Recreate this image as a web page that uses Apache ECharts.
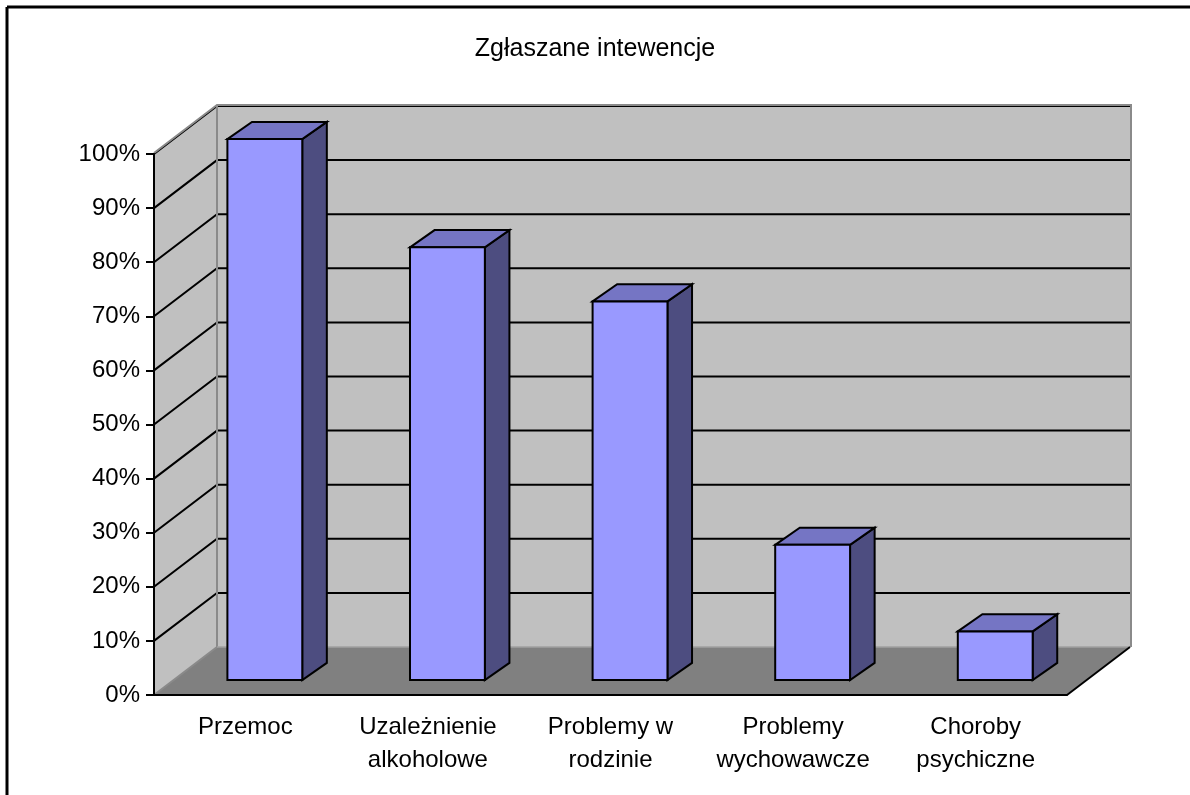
<!DOCTYPE html>
<html>
<head>
<meta charset="utf-8">
<script src="https://cdn.jsdelivr.net/npm/echarts@6/dist/echarts.min.js"></script>
<style>
  html, body { margin: 0; padding: 0; background: #fff; }
  #chart { width: 1190px; height: 795px; }
</style>
</head>
<body>
<div id="chart"></div>
<script>
// data
const categories = ['Przemoc', 'Uzależnienie\nalkoholowe', 'Problemy w\nrodzinie', 'Problemy\nwychowawcze', 'Choroby\npsychiczne'];
const values = [1.00, 0.80, 0.70, 0.25, 0.09];
const gridTicks = [0.1, 0.2, 0.3, 0.4, 0.5, 0.6, 0.7, 0.8, 0.9, 1.0];

// fake 3d look
const DEPTH_X = 63;
const DEPTH_Y = -48;
const BAR_FRONT = 0.31;
const BAR_BACK = 0.70;
const BAR_WIDTH = 0.41;
const FONT = '"Liberation Sans", Arial, sans-serif';

const renderWalls = (params, api) => {
  const cs = params.coordSys;
  const x0 = cs.x;
  const x1 = cs.x + cs.width;
  const yBase = api.coord([0, 0])[1];
  const yTop = api.coord([0, 1])[1];
  const children = [];

  // side wall
  children.push({
    type: 'polygon',
    shape: { points: [[x0, yTop], [x0 + DEPTH_X, yTop + DEPTH_Y], [x0 + DEPTH_X, yBase + DEPTH_Y], [x0, yBase]] },
    style: { fill: '#c0c0c0' }
  });
  // back wall
  children.push({
    type: 'rect',
    shape: { x: x0 + DEPTH_X, y: yTop + DEPTH_Y, width: cs.width, height: yBase - yTop },
    style: { fill: '#c0c0c0' }
  });
  // floor
  children.push({
    type: 'polygon',
    shape: { points: [[x0, yBase], [x0 + DEPTH_X, yBase + DEPTH_Y], [x1 + DEPTH_X, yBase + DEPTH_Y], [x1, yBase]] },
    style: { fill: '#808080' }
  });

  // grid lines on side + back wall
  gridTicks.forEach((v) => {
    const y = api.coord([0, v])[1];
    children.push({
      type: 'polyline',
      shape: { points: [[x0, y], [x0 + DEPTH_X, y + DEPTH_Y], [x1 + DEPTH_X, y + DEPTH_Y]] },
      style: { stroke: '#000', lineWidth: 2, fill: null }
    });
  });

  // wall edges
  children.push({
    type: 'polyline',
    shape: { points: [[x0, yTop - 1], [x0 + DEPTH_X, yTop + DEPTH_Y - 1], [x1 + DEPTH_X + 1, yTop + DEPTH_Y - 1], [x1 + DEPTH_X + 1, yBase + DEPTH_Y]] },
    style: { stroke: '#8a8a8a', lineWidth: 2, fill: null }
  });
  children.push({
    type: 'polyline',
    shape: { points: [[x0 + DEPTH_X, yTop + DEPTH_Y], [x0 + DEPTH_X, yBase + DEPTH_Y], [x0, yBase]] },
    style: { stroke: '#8a8a8a', lineWidth: 2, fill: null }
  });
  children.push({
    type: 'line',
    shape: { x1: x0 + DEPTH_X, y1: yBase + DEPTH_Y, x2: x1 + DEPTH_X, y2: yBase + DEPTH_Y },
    style: { stroke: '#a0a0a0', lineWidth: 1.5 }
  });
  children.push({
    type: 'line',
    shape: { x1: x1, y1: yBase, x2: x1 + DEPTH_X, y2: yBase + DEPTH_Y },
    style: { stroke: '#000', lineWidth: 2 }
  });

  return { type: 'group', children };
};

const renderBar = (params, api) => {
  const top = api.coord([api.value(0), api.value(1)]);
  const base = api.coord([api.value(0), 0]);
  const band = api.size([1, 0])[0];
  const w = band * BAR_WIDTH;
  const fx = top[0] + BAR_FRONT * DEPTH_X - w / 2;
  const fyTop = top[1] + BAR_FRONT * DEPTH_Y;
  const fyBot = base[1] + BAR_FRONT * DEPTH_Y;
  const dx = (BAR_BACK - BAR_FRONT) * DEPTH_X;
  const dy = (BAR_BACK - BAR_FRONT) * DEPTH_Y * 0.92;
  const edge = { stroke: '#000', lineWidth: 2, lineJoin: 'miter' };

  return {
    type: 'group',
    children: [
      {
        type: 'polygon',
        shape: { points: [[fx + w, fyTop], [fx + w + dx, fyTop + dy], [fx + w + dx, fyBot + dy], [fx + w, fyBot]] },
        style: Object.assign({ fill: '#4d4d80' }, edge)
      },
      {
        type: 'polygon',
        shape: { points: [[fx, fyTop], [fx + dx, fyTop + dy], [fx + w + dx, fyTop + dy], [fx + w, fyTop]] },
        style: Object.assign({ fill: '#7575c4' }, edge)
      },
      {
        type: 'rect',
        shape: { x: fx, y: fyTop, width: w, height: fyBot - fyTop },
        style: Object.assign({ fill: '#9999ff' }, edge)
      }
    ]
  };
};

const chart = echarts.init(document.getElementById('chart'));

chart.setOption({
  animation: false,
  backgroundColor: '#fff',
  title: {
    text: 'Zgłaszane intewencje',
    left: 'center',
    top: 32,
    textStyle: { fontFamily: FONT, fontSize: 25, fontWeight: 'normal', color: '#000' }
  },
  grid: {
    left: 154,
    right: 123,
    top: 154,
    bottom: 100
  },
  xAxis: {
    type: 'category',
    data: categories,
    z: 5,
    axisLine: { lineStyle: { color: '#000', width: 2 } },
    axisTick: { length: 7, lineStyle: { color: '#000', width: 2 } },
    axisLabel: {
      interval: 0,
      margin: 16,
      fontFamily: FONT,
      fontSize: 24,
      lineHeight: 33,
      color: '#000'
    },
    splitLine: { show: false }
  },
  yAxis: {
    type: 'value',
    min: 0,
    max: 1,
    interval: 0.1,
    z: 5,
    axisLine: { show: true, lineStyle: { color: '#000', width: 2 } },
    axisTick: { show: true, length: 8, lineStyle: { color: '#000', width: 2 } },
    axisLabel: {
      margin: 14,
      fontFamily: FONT,
      fontSize: 24,
      color: '#000',
      formatter: (v) => Math.round(v * 100) + '%'
    },
    splitLine: { show: false }
  },
  graphic: [
    { type: 'line', shape: { x1: 7, y1: 7, x2: 1190, y2: 7 }, style: { stroke: '#000', lineWidth: 3 } },
    { type: 'line', shape: { x1: 7, y1: 7, x2: 7, y2: 795 }, style: { stroke: '#000', lineWidth: 3 } }
  ],
  series: [
    {
      type: 'custom',
      name: 'walls',
      clip: false,
      silent: true,
      renderItem: renderWalls,
      data: [[0, 0]]
    },
    {
      type: 'custom',
      name: 'bars',
      clip: false,
      renderItem: renderBar,
      encode: { x: 0, y: 1 },
      data: values.map((v, i) => [i, v])
    }
  ]
});
</script>
</body>
</html>
